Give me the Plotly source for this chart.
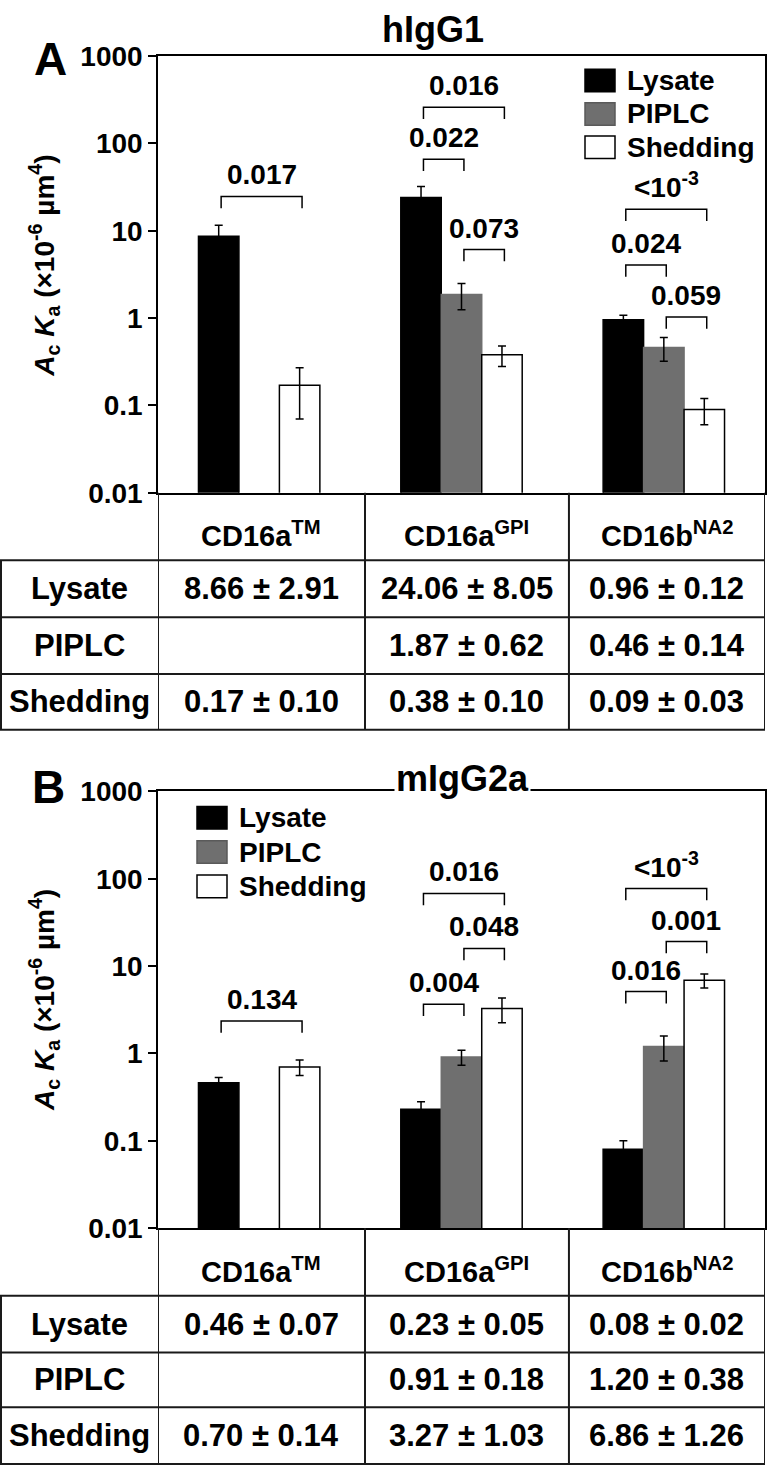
import math
import plotly.graph_objects as go

W, H = 769, 1482
FONT = "Liberation Sans, Arial, sans-serif"

# ---------------- data ----------------
categories = ["CD16a<sup>TM</sup>", "CD16a<sup>GPI</sup>", "CD16b<sup>NA2</sup>"]
series = ["Lysate", "PIPLC", "Shedding"]
series_colors = ["#000000", "#6f6f6f", "#ffffff"]

# Panel A (hIgG1)
A_lysate = [8.66, 24.06, 0.96]
A_lysate_sd = [2.91, 8.05, 0.12]
A_piplc = [None, 1.87, 0.46]
A_piplc_sd = [None, 0.62, 0.14]
A_shedding = [0.17, 0.38, 0.09]
A_shedding_sd = [0.10, 0.10, 0.03]

# Panel B (mIgG2a)
B_lysate = [0.46, 0.23, 0.08]
B_lysate_sd = [0.07, 0.05, 0.02]
B_piplc = [None, 0.91, 1.20]
B_piplc_sd = [None, 0.18, 0.38]
B_shedding = [0.70, 3.27, 6.86]
B_shedding_sd = [0.14, 1.03, 1.26]

# significance brackets: (category index, from series, to series, bracket height, p label)
A_brackets = [
    (0, 0, 2, 24.7, "0.017"),
    (1, 0, 2, 260.0, "0.016"),
    (1, 0, 1, 66.0, "0.022"),
    (1, 1, 2, 6.1, "0.073"),
    (2, 0, 2, 17.7, "&lt;10<sup>-3</sup>"),
    (2, 0, 1, 4.05, "0.024"),
    (2, 1, 2, 1.03, "0.059"),
]
B_brackets = [
    (0, 0, 2, 2.35, "0.134"),
    (1, 0, 1, 3.65, "0.004"),
    (1, 0, 2, 67.8, "0.016"),
    (1, 1, 2, 15.9, "0.048"),
    (2, 0, 2, 77.3, "&lt;10<sup>-3</sup>"),
    (2, 1, 2, 19.1, "0.001"),
    (2, 0, 1, 5.1, "0.016"),
]

y_tickvals = [0.01, 0.1, 1, 10, 100, 1000]
y_ticktext = ["0.01", "0.1", "1", "10", "100", "1000"]

# ---------------- layout helpers ----------------
def px(x):
    return x / W


def py(y):
    return 1 - y / H


BARGAP = 0.4
BAR_W = (1 - BARGAP) / 3
col_edges = [-0.5, 0.523, 1.531, 2.5]  # table column boundaries on the x scale
LEG = 10 ** 0.135  # bracket leg length factor
BR_SHIFT = 0.012   # brackets sit slightly right of bar centres

panels = [
    dict(letter="A", title="hIgG1", xa="x", ya="y", top=42, bottom=488,
         rows=[557, 615, 673, 730],
         means=[A_lysate, A_piplc, A_shedding], sds=[A_lysate_sd, A_piplc_sd, A_shedding_sd],
         brackets=A_brackets, leg_x=585, leg_ys=[67, 101, 135],
         title_xy=(433, 15), letter_xy=(50, 45), title_bg=False, ylab_y=256),
    dict(letter="B", title="mIgG2a", xa="x2", ya="y2", top=793, bottom=1239,
         rows=[1308, 1366, 1422, 1480],
         means=[B_lysate, B_piplc, B_shedding], sds=[B_lysate_sd, B_piplc_sd, B_shedding_sd],
         brackets=B_brackets, leg_x=197, leg_ys=[820, 855, 890],
         title_xy=(462, 780), letter_xy=(48, 788), title_bg=True, ylab_y=1006),
]

fig = go.Figure()
shapes = []
annotations = []
LINE = "#1a1a1a"

for p in panels:
    # bars
    for i, name in enumerate(series):
        fig.add_trace(go.Bar(
            x=[0, 1, 2], y=p["means"][i], name=name, showlegend=False,
            xaxis=p["xa"], yaxis=p["ya"],
            marker=dict(color=series_colors[i],
                        line=dict(color="#000000" if i != 1 else series_colors[1], width=1.5)),
            error_y=dict(type="data", array=p["sds"][i], visible=True,
                         color="#000000", thickness=1.5, width=4),
            hoverinfo="skip",
        ))
    # brackets
    for g, s1, s2, top, lab in p["brackets"]:
        x1 = g + (s1 - 1) * BAR_W + BR_SHIFT
        x2 = g + (s2 - 1) * BAR_W + BR_SHIFT
        fig.add_trace(go.Scatter(
            x=[x1, x1, x2, x2], y=[top / LEG, top, top, top / LEG],
            mode="lines", line=dict(color="#000000", width=1.5),
            xaxis=p["xa"], yaxis=p["ya"], showlegend=False, hoverinfo="skip"))
        annotations.append(dict(
            x=(x1 + x2) / 2, y=math.log10(top), xref=p["xa"], yref=p["ya"],
            text="<b>" + lab + "</b>", showarrow=False, yanchor="bottom", yshift=4,
            font=dict(family=FONT, size=28, color="#000")))

    # titles / letters / y label
    tx, ty = p["title_xy"]
    annotations.append(dict(
        x=px(tx), y=py(ty), xref="paper", yref="paper", text="<b>" + p["title"] + "</b>",
        showarrow=False, xanchor="center", yanchor="middle",
        bgcolor="#ffffff" if p["title_bg"] else None,
        font=dict(family=FONT, size=36, color="#000")))
    lx, ly = p["letter_xy"]
    annotations.append(dict(
        x=px(lx), y=py(ly), xref="paper", yref="paper", text="<b>" + p["letter"] + "</b>",
        showarrow=False, xanchor="center", yanchor="middle",
        font=dict(family=FONT, size=46, color="#000")))
    annotations.append(dict(
        x=px(44), y=py(p["ylab_y"]), xref="paper", yref="paper", textangle=-90,
        text="<b><i>A</i><sub>c</sub> <i>K</i><sub>a</sub> (×10<sup>-6</sup> µm<sup>4</sup>)</b>",
        showarrow=False, xanchor="center", yanchor="middle",
        font=dict(family=FONT, size=28, color="#000")))

    # legend (manual swatches)
    for i, name in enumerate(series):
        yc = p["leg_ys"][i]
        shapes.append(dict(
            type="rect", xref="paper", yref="paper",
            x0=px(p["leg_x"]), x1=px(p["leg_x"] + 30), y0=py(yc + 11.5), y1=py(yc - 11.5),
            fillcolor=series_colors[i],
            line=dict(color="#000000" if i != 1 else "#5a5a5a", width=1.5)))
        annotations.append(dict(
            x=px(p["leg_x"] + 40), y=py(yc), xref="paper", yref="paper",
            text="<b>" + name + "</b>", showarrow=False, xanchor="left", yanchor="middle",
            font=dict(family=FONT, size=28, color="#000")))

    # table grid
    b = p["bottom"]
    rows = p["rows"]
    tbl_bottom = rows[-1]
    for yy in rows:
        shapes.append(dict(type="line", xref="paper", yref="paper",
                           x0=0, x1=px(765), y0=py(yy), y1=py(yy),
                           line=dict(color=LINE, width=2)))
    shapes.append(dict(type="line", xref="paper", yref="paper",
                       x0=px(1), x1=px(1), y0=py(rows[0]), y1=py(tbl_bottom),
                       line=dict(color=LINE, width=2)))
    for ce in col_edges:
        shapes.append(dict(type="line", xref=p["xa"], yref="paper",
                           x0=ce, x1=ce, y0=py(b), y1=py(tbl_bottom),
                           line=dict(color=LINE, width=2)))

    # table text
    centers = [(col_edges[k] + col_edges[k + 1]) / 2 for k in range(3)]
    head_y = (b + rows[0]) / 2 + 8
    for k, cat in enumerate(categories):
        annotations.append(dict(
            x=centers[k], y=py(head_y), xref=p["xa"], yref="paper",
            text="<b>" + cat + "</b>", showarrow=False, xanchor="center", yanchor="middle",
            font=dict(family=FONT, size=29, color="#000")))
    for i, name in enumerate(series):
        yc = (rows[i] + rows[i + 1]) / 2
        annotations.append(dict(
            x=px(79), y=py(yc), xref="paper", yref="paper",
            text="<b>" + name + "</b>", showarrow=False, xanchor="center", yanchor="middle",
            font=dict(family=FONT, size=31, color="#000")))
        for k in range(3):
            m = p["means"][i][k]
            s = p["sds"][i][k]
            if m is None:
                continue
            annotations.append(dict(
                x=centers[k], y=py(yc), xref=p["xa"], yref="paper",
                text="<b>%.2f ± %.2f</b>" % (m, s), showarrow=False,
                xanchor="center", yanchor="middle",
                font=dict(family=FONT, size=31, color="#000")))

xax = dict(range=[-0.5, 2.5], domain=[px(158), px(765)], showticklabels=False, ticks="",
           showline=True, mirror=True, linecolor="#000", linewidth=1.5,
           showgrid=False, zeroline=False, fixedrange=True)
def yax(top, bottom):
    return dict(type="log", range=[-2, 3], domain=[py(bottom), py(top)],
                tickvals=y_tickvals, ticktext=y_ticktext, ticks="outside",
                ticklen=8, tickwidth=1.5, tickcolor="#000",
                tickfont=dict(family=FONT, size=28, color="#000", weight="bold"),
                showline=True, mirror=True, linecolor="#000", linewidth=1.5,
                showgrid=False, zeroline=False, fixedrange=True)

fig.update_layout(
    width=W, height=H, margin=dict(l=0, r=0, t=0, b=0),
    paper_bgcolor="#ffffff", plot_bgcolor="#ffffff",
    barmode="group", bargap=BARGAP, bargroupgap=0,
    xaxis=dict(xax, anchor="y"),
    yaxis=dict(yax(panels[0]["top"], panels[0]["bottom"]), anchor="x"),
    xaxis2=dict(xax, anchor="y2"),
    yaxis2=dict(yax(panels[1]["top"], panels[1]["bottom"]), anchor="x2"),
    shapes=shapes, annotations=annotations, showlegend=False,
)

fig.write_html(
    "out.html",
    config={"displayModeBar": False},
    post_script="document.body.style.margin='0px';document.body.style.overflow='hidden';",
)
